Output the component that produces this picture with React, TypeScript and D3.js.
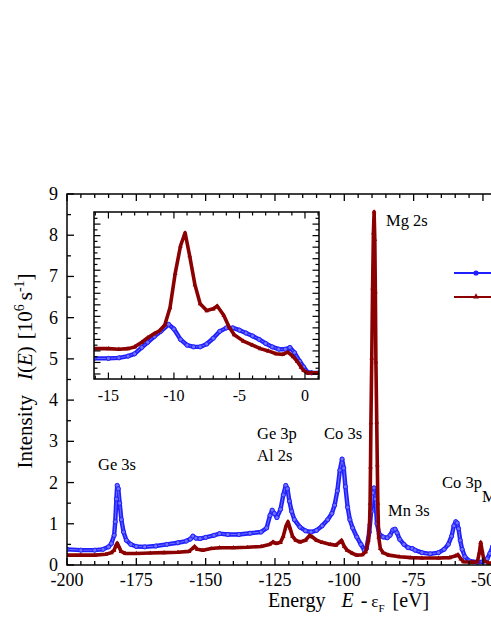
import React from 'react';
import * as d3 from 'd3';

// ---------- Main spectrum (energy in eV, intensity in 10^6 s^-1) ----------
const blueE = [-200, -195, -190, -187, -185, -184, -183, -182.6, -182.2, -181.9, -181.5, -181.0, -180.4, -179.6, -178.6, -177, -175, -172, -168, -164, -160, -157, -155.5, -154.6, -153.5, -152, -150, -147, -145, -142, -138, -134, -130, -128, -126.8, -126, -125.2, -124.3, -123, -122, -121.1, -120.5, -119.8, -119, -118, -116, -114, -112, -110, -108, -106, -104.5, -103.5, -102.5, -101.6, -100.8, -100.2, -99.6, -98.8, -98, -97, -95.5, -94, -92.8, -92, -91, -90.3, -89.7, -89.3, -88.8, -88.2, -87.4, -86, -84.5, -83.5, -82.5, -81.7, -81, -80, -78.5, -77, -75.5, -74.5, -72, -69, -66, -64, -62.5, -61.3, -60.5, -59.8, -59.3, -58.8, -58.2, -57.5, -56.5, -55, -52, -50, -48.5, -47.5, -46.5];
const blueI = [0.38, 0.36, 0.36, 0.38, 0.44, 0.52, 0.72, 1.05, 1.6, 1.93, 1.85, 1.5, 1.1, 0.8, 0.6, 0.5, 0.45, 0.44, 0.46, 0.5, 0.54, 0.58, 0.63, 0.7, 0.65, 0.64, 0.67, 0.72, 0.76, 0.74, 0.74, 0.77, 0.8, 0.9, 1.2, 1.33, 1.25, 1.15, 1.35, 1.7, 1.93, 1.85, 1.55, 1.3, 1.1, 0.92, 0.83, 0.8, 0.84, 0.95, 1.1, 1.25, 1.45, 1.8, 2.3, 2.57, 2.35, 1.9, 1.4, 1.1, 0.9, 0.68, 0.5, 0.36, 0.4, 0.8, 1.3, 1.75, 1.87, 1.6, 1.0, 0.75, 0.68, 0.66, 0.72, 0.85, 0.87, 0.78, 0.62, 0.5, 0.42, 0.4, 0.36, 0.3, 0.27, 0.3, 0.38, 0.5, 0.7, 0.95, 1.05, 1.02, 0.88, 0.6, 0.38, 0.2, 0.1, 0.07, 0.08, 0.15, 0.28, 0.45];

const redE = [-200, -195, -190, -186, -184, -183, -182.3, -181.9, -181.3, -180.5, -179, -175, -170, -165, -160, -156, -154.8, -154, -153, -151, -148, -145, -140, -135, -130, -127, -125.7, -124.5, -123, -122, -121, -120.3, -119.6, -118.7, -117.5, -116, -114, -112.5, -111.5, -110, -108, -105, -103, -101.8, -101, -100, -99, -97, -95.5, -93.5, -92.3, -91.3, -90.9, -90.7, -90.55, -90.4, -90.1, -89.8, -89.5, -89.25, -89.0, -88.8, -88.6, -88.3, -88.1, -87.9, -87.6, -87.0, -86, -84, -80, -76, -72, -66, -62, -60, -59, -58, -57, -54, -52, -51.3, -50.8, -50.3, -49.6, -48, -46];
const redI = [0.24, 0.24, 0.24, 0.26, 0.3, 0.36, 0.48, 0.53, 0.45, 0.33, 0.28, 0.28, 0.29, 0.3, 0.31, 0.33, 0.4, 0.45, 0.38, 0.36, 0.4, 0.42, 0.42, 0.43, 0.45, 0.5, 0.56, 0.52, 0.55, 0.7, 0.95, 1.05, 0.9, 0.7, 0.6, 0.56, 0.6, 0.72, 0.68, 0.6, 0.55, 0.5, 0.48, 0.55, 0.6, 0.45, 0.36, 0.28, 0.24, 0.25, 0.32, 0.6, 1.0, 1.5, 2.38, 3.45, 5.02, 6.72, 8.06, 8.57, 7.9, 6.63, 4.93, 3.47, 2.43, 1.5, 0.68, 0.4, 0.3, 0.24, 0.2, 0.18, 0.17, 0.17, 0.18, 0.22, 0.25, 0.15, 0.08, 0.07, 0.08, 0.3, 0.55, 0.35, 0.1, 0.05, 0.05];

// ---------- Inset (valence band, arbitrary units) ----------
const insetBlueE = [-16.1, -15, -14.2, -13.5, -13, -12.45, -12, -11.5, -11, -10.4, -10, -9.5, -9, -8.5, -8, -7.5, -7, -6.5, -6, -5.5, -5, -4.5, -4, -3.5, -3, -2.5, -2, -1.5, -1.15, -0.8, -0.4, -0.1, 0.2, 0.5, 1.07];
const insetBlueV = [0.27, 0.27, 0.28, 0.31, 0.35, 0.46, 0.55, 0.65, 0.74, 0.86, 0.78, 0.6, 0.5, 0.47, 0.47, 0.52, 0.62, 0.74, 0.8, 0.8, 0.76, 0.71, 0.66, 0.6, 0.53, 0.47, 0.43, 0.43, 0.46, 0.37, 0.22, 0.12, 0.03, 0.02, 0.02];
const insetRedE = [-16.1, -15, -14.2, -13.5, -13, -12.45, -12, -11.5, -11.1, -10.7, -10.3, -9.9, -9.5, -9.15, -8.8, -8.4, -8.0, -7.5, -7.0, -6.7, -6.2, -5.8, -5.4, -4.7, -4, -3.4, -2.8, -2.2, -1.7, -1.3, -0.9, -0.6, -0.3, -0.1, 0.2, 0.5, 1.07];
const insetRedV = [0.44, 0.44, 0.43, 0.44, 0.47, 0.55, 0.63, 0.7, 0.75, 0.85, 1.15, 1.75, 2.22, 2.45, 2.05, 1.55, 1.22, 1.1, 1.13, 1.18, 1.02, 0.82, 0.68, 0.57, 0.5, 0.44, 0.4, 0.35, 0.34, 0.38, 0.3, 0.22, 0.12, 0.06, 0.02, 0.02, 0.02];

// ---------- Tick values & labels ----------
const xMajorTicks = [-200, -175, -150, -125, -100, -75, -50];
const yMajorTicks = [0, 1, 2, 3, 4, 5, 6, 7, 8, 9];
const insetXMajorTicks = [-15, -10, -5, 0];

const peakLabels = ['Ge 3s', 'Ge 3p', 'Al 2s', 'Co 3s', 'Mg 2s', 'Mn 3s', 'Co 3p', 'Mn 3p'];
// label anchor points (layout only)
const labelPos = [
  [98, 470], [257, 439], [257, 461], [324, 439], [386, 226], [388, 516], [442, 488], [482, 502],
];

const FONT = "Liberation Serif";
const BLUE = '#1f1fff';
const BLUE_IN = '#7070ff';
const RED = '#8b0000';

function tri(cx: number, cy: number, s: number) {
  return `M${cx},${cy - s}L${cx + s * 0.9},${cy + s * 0.6}L${cx - s * 0.9},${cy + s * 0.6}Z`;
}

export default function App() {
  const W = 491, H = 635;
  const x = d3.scaleLinear().domain([-200, 0]).range([67, 621.6]);
  const y = d3.scaleLinear().domain([0, 9]).range([565, 194]);
  const ix = d3.scaleLinear().domain([-16.1, 1.07]).range([94, 319]);
  const iy = d3.scaleLinear().domain([-0.087, 2.81]).range([379, 212]);

  const line = d3.line<[number, number]>().x(d => d[0]).y(d => d[1]);
  const pts = (E: number[], I: number[], sx: any, sy: any) => E.map((e, i) => [sx(e), sy(I[i])] as [number, number]);

  const mb = pts(blueE, blueI, x, y);
  const mr = pts(redE, redI, x, y);
  const ib = pts(insetBlueE, insetBlueV, ix, iy);
  const ir = pts(insetRedE, insetRedV, ix, iy);

  const xMinor = d3.range(-200, 0.01, 5);
  const yMinor = d3.range(0, 9.01, 0.5);
  const ixMinor = d3.range(-16, 1.01, 1);
  const iyMinor = d3.range(0, 2.75, 0.1);

  const x0 = x(-200), xr = x(0), yb = y(0), yt = y(9);
  const ixl = ix.range()[0], ixr = ix.range()[1], iyb = iy.range()[0], iyt = iy.range()[1];

  const series = (p: [number, number][], kind: 'b' | 'r', key: string) => (
    <g key={key}>
      {kind === 'b' ? (
        <>
          <path d={line(p) || ''} fill="none" stroke={BLUE} strokeWidth={4.4} strokeLinejoin="round" />
          <path d={line(p) || ''} fill="none" stroke={BLUE_IN} strokeWidth={1} strokeLinejoin="round" />
          {p.map((d, i) => <circle key={i} cx={d[0]} cy={d[1]} r={2.1} fill={BLUE_IN} stroke={BLUE} strokeWidth={1} />)}
        </>
      ) : (
        <>
          <path d={line(p) || ''} fill="none" stroke={RED} strokeWidth={3.6} strokeLinejoin="round" />
          {p.map((d, i) => <path key={i} d={tri(d[0], d[1], 2.6)} fill={RED} />)}
        </>
      )}
    </g>
  );

  return (
    <svg width={W} height={H} style={{ position: 'absolute', left: 0, top: 0, fontFamily: "'Liberation Serif', 'DejaVu Serif', serif" }}>
      <rect width={W} height={H} fill="#fff" />
      <defs>
        <clipPath id="mainclip"><rect x={x0} y={yt} width={xr - x0} height={yb - yt} /></clipPath>
        <clipPath id="insetclip"><rect x={ixl} y={iyt} width={ixr - ixl} height={iyb - iyt} /></clipPath>
      </defs>

      {/* main curves */}
      <g clipPath="url(#mainclip)">
        {series(mb, 'b', 'mb')}
        {series(mr, 'r', 'mr')}
      </g>

      {/* main frame */}
      <rect x={x0} y={yt} width={xr - x0} height={yb - yt} fill="none" stroke="#000" strokeWidth={1.5} />
      {xMinor.map(v => {
        const major = v % 25 === 0;
        const L = major ? 7 : 4;
        return (
          <g key={'xt' + v}>
            <line x1={x(v)} x2={x(v)} y1={yb} y2={yb - L} stroke="#000" strokeWidth={1.3} />
            <line x1={x(v)} x2={x(v)} y1={yt} y2={yt + L} stroke="#000" strokeWidth={1.3} />
          </g>
        );
      })}
      {yMinor.map(v => {
        const major = Number.isInteger(v);
        const L = major ? 7 : 4;
        return (
          <g key={'yt' + v}>
            <line x1={x0} x2={x0 + L} y1={y(v)} y2={y(v)} stroke="#000" strokeWidth={1.3} />
            <line x1={xr} x2={xr - L} y1={y(v)} y2={y(v)} stroke="#000" strokeWidth={1.3} />
          </g>
        );
      })}
      {xMajorTicks.map(v => (
        <text key={'xl' + v} x={x(v)} y={586} fontFamily={FONT} fontSize={18} textAnchor="middle">{v}</text>
      ))}
      {yMajorTicks.map(v => (
        <text key={'yl' + v} x={58} y={y(v) + 6} fontFamily={FONT} fontSize={18} textAnchor="end">{v}</text>
      ))}

      {/* axis titles */}
      <text x={268} y={607} fontFamily={FONT} fontSize={20}>
        <tspan>Energy</tspan>
        <tspan dx={16} fontStyle="italic">E</tspan>
        <tspan dx={7}>-</tspan>
        <tspan dx={4} fontSize={17}>ε</tspan>
        <tspan fontSize={11} dy={5}>F</tspan>
        <tspan dy={-5} dx={8}>[eV]</tspan>
      </text>
      <text transform="translate(32,371) rotate(-90)" fontFamily={FONT} fontSize={21} textAnchor="middle">
        <tspan>Intensity</tspan>
        <tspan dx={15} fontStyle="italic">I</tspan>
        <tspan>(</tspan>
        <tspan fontStyle="italic">E</tspan>
        <tspan>)</tspan>
        <tspan dx={7}>[10</tspan>
        <tspan fontSize={14} dy={-8}>6</tspan>
        <tspan dy={8} dx={4}>s</tspan>
        <tspan fontSize={14} dy={-8}>-1</tspan>
        <tspan dy={8}>]</tspan>
      </text>

      {/* peak labels */}
      {peakLabels.map((t, i) => (
        <text key={'pl' + i} x={labelPos[i][0]} y={labelPos[i][1]} fontFamily={FONT} fontSize={16.5}>{t}</text>
      ))}

      {/* legend (labels lie beyond the visible crop) */}
      <line x1={454} x2={W + 5} y1={273} y2={273} stroke={BLUE} strokeWidth={2.2} />
      <circle cx={476} cy={273} r={2.6} fill={BLUE} />
      <line x1={454} x2={W + 5} y1={297} y2={297} stroke={RED} strokeWidth={2.2} />
      <path d={tri(476, 296.5, 3.2)} fill={RED} />

      {/* inset */}
      <rect x={ixl} y={iyt} width={ixr - ixl} height={iyb - iyt} fill="#fff" />
      <g clipPath="url(#insetclip)">
        {series(ib, 'b', 'ib')}
        {series(ir, 'r', 'ir')}
      </g>
      <rect x={ixl} y={iyt} width={ixr - ixl} height={iyb - iyt} fill="none" stroke="#000" strokeWidth={1.5} />
      {ixMinor.map(v => {
        const major = v % 5 === 0;
        const L = major ? 6.5 : 3.5;
        return (
          <g key={'ixt' + v}>
            <line x1={ix(v)} x2={ix(v)} y1={iyb} y2={iyb - L} stroke="#000" strokeWidth={1.2} />
            <line x1={ix(v)} x2={ix(v)} y1={iyt} y2={iyt + L} stroke="#000" strokeWidth={1.2} />
          </g>
        );
      })}
      {iyMinor.map((v, i) => {
        const major = i % 2 === 0;
        const L = major ? 6.5 : 3.5;
        return (
          <g key={'iyt' + i}>
            <line x1={ixl} x2={ixl + L} y1={iy(v)} y2={iy(v)} stroke="#000" strokeWidth={1.2} />
            <line x1={ixr} x2={ixr - L} y1={iy(v)} y2={iy(v)} stroke="#000" strokeWidth={1.2} />
          </g>
        );
      })}
      {insetXMajorTicks.map(v => (
        <text key={'ixl' + v} x={ix(v)} y={401} fontFamily={FONT} fontSize={16} textAnchor="middle">{v}</text>
      ))}
    </svg>
  );
}
